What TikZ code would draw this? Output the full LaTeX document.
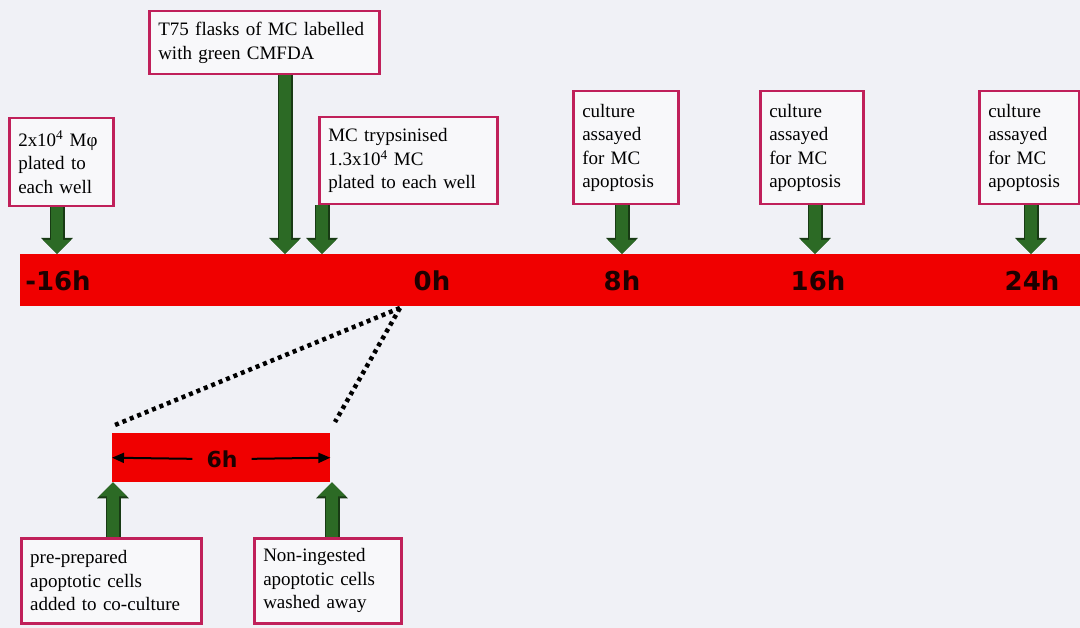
\documentclass[tikz,border=0pt]{standalone}
\usepackage{fontspec}
\setmainfont{Liberation Serif}
\newfontfamily\hourfont{DejaVu Sans}
\usetikzlibrary{arrows.meta,calc}

\definecolor{bg}{RGB}{240,241,246}
\definecolor{barred}{RGB}{240,0,0}
\definecolor{boxred}{RGB}{192,32,90}
\definecolor{boxfill}{RGB}{248,248,250}
\definecolor{garrow}{RGB}{44,106,37}
\definecolor{gdark}{RGB}{24,58,20}
\definecolor{hourtext}{RGB}{30,0,0}

\tikzset{
  note/.style={draw=boxred, line width=2.5pt, fill=boxfill, align=left,
    inner xsep=9pt, inner ysep=0pt, anchor=north west,
    font=\fontsize{19}{23.5}\selectfont, text=black},
  timebar/.style={fill=barred, draw=none, anchor=north west, inner sep=0pt},
  hour/.style={font=\hourfont\bfseries\fontsize{26}{26}\selectfont, text=hourtext, inner sep=2pt},
  greenarrow/.style={draw=garrow, line width=12pt,
    -{Triangle[width=27pt,length=14pt]},
    preaction={draw=gdark, line width=15pt, -{Triangle[width=31pt,length=16pt]}}},
  spanarrow/.style={draw=black, line width=2pt, -{Triangle[width=10pt,length=12pt]}},
  zoomline/.style={draw=black, line width=4.5pt, dash pattern=on 4pt off 4pt}
}

\begin{document}
\begin{tikzpicture}[x=1pt,y=-1pt]
  \useasboundingbox (0,0) rectangle (1080,628);
  \fill[bg] (0,0) rectangle (1080,628);

  % main time line
  \node[timebar, minimum width=1062pt, minimum height=52pt] (bar) at (20,254) {};
  \node[hour] (tm16) at (58,281) {-16h};
  \node[hour] (t0)   at (432,281) {0h};
  \node[hour] (t8)   at (622,281) {8h};
  \node[hour] (t16)  at (818,281) {16h};
  \node[hour] (t24)  at (1032,281) {24h};

  % event boxes above the time line
  \node[note, text width=86pt, minimum height=88pt] (b1) at (8,117)
    {2x10\textsuperscript{4} Mφ\\plated to\\each well};
  \node[note, text width=212pt, minimum height=63pt] (b2) at (148,10)
    {T75 flasks of MC labelled\\with green CMFDA};
  \node[note, text width=160pt, minimum height=87pt] (b3) at (318,116)
    {MC trypsinised\\1.3x10\textsuperscript{4} MC\\plated to each well};
  \node[note, text width=87pt, minimum height=113pt] (b4) at (572,90)
    {culture\\assayed\\for MC\\apoptosis};
  \node[note, text width=85pt, minimum height=113pt] (b5) at (759,90)
    {culture\\assayed\\for MC\\apoptosis};
  \node[note, text width=82pt, minimum height=113pt] (b6) at (978,90)
    {culture\\assayed\\for MC\\apoptosis};

  % arrow positions along the time line
  \coordinate (a1) at (57,0);
  \coordinate (a2) at (285,0);
  \coordinate (a3) at (322,0);
  \coordinate (a4) at (622,0);
  \coordinate (a5) at (815,0);
  \coordinate (a6) at (1031,0);

  \draw[greenarrow] (b1.south -| a1) -- (bar.north -| a1);
  \draw[greenarrow] (b2.south -| a2) -- (bar.north -| a2);
  \draw[greenarrow] (b3.south -| a3) -- (bar.north -| a3);
  \draw[greenarrow] (b4.south -| a4) -- (bar.north -| a4);
  \draw[greenarrow] (b5.south -| a5) -- (bar.north -| a5);
  \draw[greenarrow] (b6.south -| a6) -- (bar.north -| a6);

  % expanded six-hour window
  \node[timebar, minimum width=218pt, minimum height=49pt] (sbar) at (112,433) {};
  \node[hour, font=\hourfont\bfseries\fontsize{22}{22}\selectfont] (six) at (222,459) {6h};
  \draw[spanarrow, shorten <=12pt] (six.west) -- (sbar.west);
  \draw[spanarrow, shorten <=12pt] (six.east) -- (sbar.east);

  \coordinate (apex) at (400,308);
  \coordinate (zl) at (115,425);
  \coordinate (zr) at (335,422);
  \draw[zoomline] (apex) -- (zl);
  \draw[zoomline] (apex) -- (zr);

  % event boxes below the window
  \node[note, text width=162pt, minimum height=85pt] (b7) at (20,537)
    {pre-prepared\\apoptotic cells\\added to co-culture};
  \node[note, text width=129pt, minimum height=85pt] (b8) at (253,537)
    {Non-ingested\\apoptotic cells\\washed away};

  \coordinate (a7) at (113,0);
  \coordinate (a8) at (332,0);
  \draw[greenarrow] (b7.north -| a7) -- (sbar.south -| a7);
  \draw[greenarrow] (b8.north -| a8) -- (sbar.south -| a8);
\end{tikzpicture}
\end{document}
